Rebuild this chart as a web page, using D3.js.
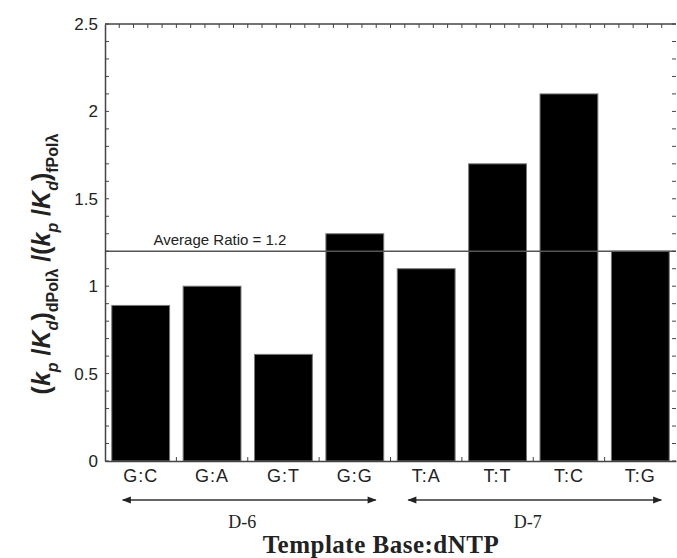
<!DOCTYPE html>
<html>
<head>
<meta charset="utf-8">
<script src="https://cdn.jsdelivr.net/npm/d3@7"></script>
<style>
  body { margin: 0; background: #fff; }
  svg text { font-family: "Liberation Sans", Arial, sans-serif; }
</style>
</head>
<body>
<div id="chart"></div>
<script>
var categories = ['G:C', 'G:A', 'G:T', 'G:G', 'T:A', 'T:T', 'T:C', 'T:G'];
var ratios = [0.89, 1.0, 0.61, 1.3, 1.1, 1.7, 2.1, 1.2];
var yTicks = [0, 0.5, 1, 1.5, 2, 2.5];
var groups = [
  { name: 'D-6', from: 'G:C', to: 'G:G' },
  { name: 'D-7', from: 'T:A', to: 'T:G' }
];
var averageRatio = 1.2;

var w = 677, h = 558;
var margin = { top: 24, right: 1, bottom: 97, left: 105 };
var width = w - margin.left - margin.right;
var height = h - margin.top - margin.bottom;

var svg = d3.select('#chart').append('svg').attr('width', w).attr('height', h);
var g = svg.append('g').attr('transform', 'translate(' + margin.left + ',' + margin.top + ')');

var xScale = d3.scaleBand().domain(categories).range([0, width]).paddingInner(0.19).paddingOuter(0.095);
var xLin = d3.scaleLinear().domain([0, categories.length]).range([0, width]);
var yScale = d3.scaleLinear().domain([0, 2.5]).range([height, 0]);

// bars
g.selectAll('.bar')
  .data(ratios)
  .enter().append('rect')
  .attr('class', 'bar')
  .attr('x', function (d, i) { return xScale(categories[i]); })
  .attr('y', function (d) { return yScale(d); })
  .attr('width', xScale.bandwidth())
  .attr('height', function (d) { return height - yScale(d); })
  .attr('fill', '#000')
  .attr('stroke', '#777')
  .attr('stroke-width', 1);

// average line
g.append('line')
  .attr('x1', 0).attr('x2', width)
  .attr('y1', yScale(averageRatio)).attr('y2', yScale(averageRatio))
  .attr('stroke', '#555').attr('stroke-width', 1.5);
g.append('text')
  .attr('x', xLin(0.68)).attr('y', yScale(averageRatio) - 6)
  .attr('font-size', 15).attr('fill', '#222')
  .text('Average Ratio = ' + averageRatio);

// left axis, ticks inside
var left = g.append('g')
  .call(d3.axisLeft(yScale).tickValues(yTicks).tickSize(0).tickPadding(7).tickFormat(d3.format('')));
left.select('.domain').attr('stroke', '#444').attr('stroke-width', 1.5);
left.selectAll('text').attr('font-size', 17).attr('fill', '#222');
var minorY = d3.range(0, 2.51, 0.1);
g.selectAll('.ltick').data(minorY).enter().append('line')
  .attr('x1', 0).attr('x2', 4)
  .attr('y1', function (d) { return yScale(d); }).attr('y2', function (d) { return yScale(d); })
  .attr('stroke', '#444');
g.selectAll('.rtick').data(minorY).enter().append('line')
  .attr('x1', width - 4).attr('x2', width)
  .attr('y1', function (d) { return yScale(d); }).attr('y2', function (d) { return yScale(d); })
  .attr('stroke', '#444');

// top border with minor ticks
g.append('line').attr('x1', 0).attr('x2', width).attr('y1', 0).attr('y2', 0)
  .attr('stroke', '#444').attr('stroke-width', 1.5);
g.selectAll('.ttick').data(d3.range(0.2, 8, 0.2)).enter().append('line')
  .attr('x1', function (d) { return xLin(d); }).attr('x2', function (d) { return xLin(d); })
  .attr('y1', 0).attr('y2', 4)
  .attr('stroke', '#444');

// bottom axis
var bottom = g.append('g')
  .attr('transform', 'translate(0,' + height + ')')
  .call(d3.axisBottom(xScale).tickSize(0).tickPadding(8));
bottom.select('.domain').attr('stroke', '#444').attr('stroke-width', 1.5);
bottom.selectAll('text').attr('font-size', 18).attr('letter-spacing', 1).attr('fill', '#222');
g.selectAll('.btick').data(d3.range(1, 8)).enter().append('line')
  .attr('x1', function (d) { return xLin(d); }).attr('x2', function (d) { return xLin(d); })
  .attr('y1', height).attr('y2', height - 4)
  .attr('stroke', '#444');

// group arrows
var defs = svg.append('defs');
['start', 'end'].forEach(function (k) {
  defs.append('marker')
    .attr('id', 'arrow-' + k)
    .attr('viewBox', '0 0 10 10').attr('refX', k === 'end' ? 9 : 1).attr('refY', 5)
    .attr('markerWidth', 9).attr('markerHeight', 6).attr('orient', 'auto')
    .append('path')
    .attr('d', k === 'end' ? 'M0,1L10,5L0,9Z' : 'M10,1L0,5L10,9Z')
    .attr('fill', '#222');
});
groups.forEach(function (grp) {
  var x1 = xScale(grp.from) + 11, x2 = xScale(grp.to) + xScale.bandwidth() - 8;
  g.append('line')
    .attr('x1', x1).attr('x2', x2)
    .attr('y1', height + 39).attr('y2', height + 39)
    .attr('stroke', '#333').attr('stroke-width', 1.5)
    .attr('marker-start', 'url(#arrow-start)')
    .attr('marker-end', 'url(#arrow-end)');
  g.append('text')
    .attr('x', (x1 + x2) / 2 - 7).attr('y', height + 67)
    .attr('text-anchor', 'middle')
    .style('font-family', '"Liberation Serif", "Times New Roman", serif')
    .attr('font-size', 18).attr('fill', '#222')
    .text(grp.name);
});

// x title
svg.append('text')
  .attr('x', 381).attr('y', 553)
  .attr('text-anchor', 'middle')
  .style('font-family', '"Liberation Serif", "Times New Roman", serif')
  .attr('font-size', 25).attr('letter-spacing', 0.5).attr('font-weight', 'bold').attr('fill', '#222')
  .text('Template Base:dNTP');

// y title
var yt = svg.append('text')
  .attr('transform', 'translate(50,264) rotate(-90)')
  .attr('text-anchor', 'middle')
  .attr('font-size', 25).attr('font-weight', 'bold').attr('fill', '#222');
var parts = [
  ['(', 0, false], ['k', 0, true], ['p', 1, true], [' /', 0, false], ['K', 0, true], ['d', 1, true],
  [')', 0, false], ['dPol\u03bb', 1, false],
  [' /(', 0, false], ['k', 0, true], ['p', 1, true], [' /', 0, false], ['K', 0, true], ['d', 1, true],
  [')', 0, false], ['fPol\u03bb', 1, false]
];
var prevSub = 0;
parts.forEach(function (p) {
  var span = yt.append('tspan').text(p[0]);
  if (p[2]) span.attr('font-style', 'italic');
  if (p[1]) span.attr('font-size', 16);
  var dy = (p[1] ? 8 : 0) - prevSub;
  if (dy !== 0) span.attr('dy', dy);
  prevSub = p[1] ? 8 : 0;
});
</script>
</body>
</html>
